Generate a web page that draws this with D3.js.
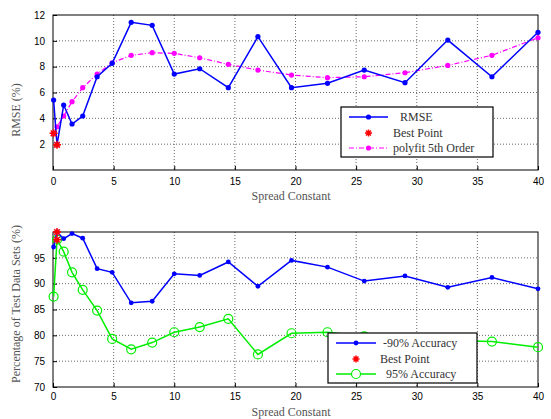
<!DOCTYPE html>
<html>
<head>
<meta charset="utf-8">
<script src="https://cdn.jsdelivr.net/npm/d3@7"></script>
<style>
  body { margin: 0; background: #fff; }
  svg { font-family: "Liberation Serif", "Times New Roman", serif; }
  .grid line { stroke: #444; stroke-dasharray: 1,2; stroke-width: 0.8; }
</style>
</head>
<body>
<svg width="551" height="419"></svg>
<script>
// Data
const spread = [0.05, 0.33, 0.88, 1.57, 2.45, 3.64, 4.88, 6.45, 8.18, 10.0, 12.1, 14.46, 16.9, 19.67, 22.64, 25.67, 29.03, 32.56, 36.2, 40.0];
const rmse = [5.42, 1.95, 5.03, 3.56, 4.18, 7.22, 8.26, 11.43, 11.2, 7.43, 7.84, 6.37, 10.32, 6.37, 6.71, 7.74, 6.76, 10.06, 7.22, 10.66];
const polyfit = [2.84, 3.35, 4.18, 5.29, 6.37, 7.43, 8.3, 8.88, 9.08, 9.03, 8.69, 8.18, 7.74, 7.35, 7.15, 7.22, 7.53, 8.1, 8.88, 10.24];
const acc90 = [97.1, 100, 98.7, 99.7, 98.8, 92.9, 92.2, 86.3, 86.6, 91.9, 91.6, 94.2, 89.5, 94.5, 93.2, 90.5, 91.5, 89.3, 91.2, 89.0];
const acc95 = [87.5, 98.5, 96.2, 92.2, 88.8, 84.8, 79.3, 77.3, 78.6, 80.6, 81.6, 83.2, 76.3, 80.4, 80.6, 79.8, 79.4, 79.0, 78.8, 77.7];
const bestTopX = [0.05, 0.33];
const bestTopY = [2.84, 1.95];
const bestBotX = [0.33, 0.33];
const bestBotY = [100, 98.5];

const xTicks = [0, 5, 10, 15, 20, 25, 30, 35, 40];
const yTicksTop = [2, 4, 6, 8, 10, 12];
const yTicksBot = [70, 75, 80, 85, 90, 95];

const svg = d3.select("svg");

// star marker like matlab '*'
function star(g, cx, cy, r) {
  const p = `M${cx - r},${cy}L${cx + r},${cy}M${cx},${cy - r}L${cx},${cy + r}` +
    `M${cx - r * 0.7},${cy - r * 0.7}L${cx + r * 0.7},${cy + r * 0.7}` +
    `M${cx - r * 0.7},${cy + r * 0.7}L${cx + r * 0.7},${cy - r * 0.7}`;
  g.append("path").attr("d", p).attr("stroke", "#ff0000").attr("stroke-width", 1.5).attr("fill", "none");
}

function panel(top, bottom, yDomain, yTicks, yLabel, yLabelY, xPad, xLabelOff) {
  const x = d3.scaleLinear().domain([0, 40]).range([53, 538]);
  const y = d3.scaleLinear().domain(yDomain).range([bottom, top]);
  const g = svg.append("g");

  // grid
  const grid = g.append("g").attr("class", "grid");
  grid.selectAll(".gx").data(xTicks.slice(1, -1)).join("line")
    .attr("x1", d => x(d)).attr("x2", d => x(d)).attr("y1", top).attr("y2", bottom);
  grid.selectAll(".gy").data(yTicks.filter(d => y(d) > top + 1 && y(d) < bottom - 1)).join("line")
    .attr("y1", d => y(d)).attr("y2", d => y(d)).attr("x1", 53).attr("x2", 538);

  // axes
  g.append("g").attr("transform", `translate(0,${bottom})`)
    .call(d3.axisBottom(x).tickValues(xTicks).tickSize(-4).tickPadding(xPad))
    .call(a => a.select(".domain").remove());
  g.append("g").attr("transform", "translate(53,0)")
    .call(d3.axisLeft(y).tickValues(yTicks).tickSize(-4).tickPadding(8))
    .call(a => a.select(".domain").remove());
  g.selectAll(".tick text").attr("font-size", 10).attr("fill", "#000");
  g.selectAll(".tick line").attr("stroke", "#000");
  g.append("rect").attr("x", 53).attr("y", top).attr("width", 485).attr("height", bottom - top)
    .attr("fill", "none").attr("stroke", "#000").attr("stroke-width", 1);

  g.append("text").attr("x", 291).attr("y", bottom + xLabelOff).attr("text-anchor", "middle")
    .attr("font-size", 12).attr("fill", "#555").text("Spread Constant");
  g.append("text").attr("transform", `translate(20,${yLabelY}) rotate(-90)`)
    .attr("text-anchor", "middle").attr("font-size", 12).attr("fill", "#555").text(yLabel);
  return { g, x, y };
}

// ---- top panel
const p1 = panel(15, 170, [0, 12], yTicksTop, "RMSE (%)", 110, 8, 30);
const line1 = d3.line().x((d, i) => p1.x(spread[i])).y(d => p1.y(d));
p1.g.append("path").datum(polyfit).attr("d", line1).attr("fill", "none")
  .attr("stroke", "#ff00ff").attr("stroke-width", 1.2).attr("stroke-dasharray", "5,2,1,2");
p1.g.selectAll(".pm").data(polyfit).join("circle")
  .attr("cx", (d, i) => p1.x(spread[i])).attr("cy", d => p1.y(d)).attr("r", 2.6).attr("fill", "#ff00ff");
p1.g.append("path").datum(rmse).attr("d", line1).attr("fill", "none")
  .attr("stroke", "#0000ff").attr("stroke-width", 1.5);
p1.g.selectAll(".rm").data(rmse).join("circle")
  .attr("cx", (d, i) => p1.x(spread[i])).attr("cy", d => p1.y(d)).attr("r", 2.6).attr("fill", "#0000ff");
bestTopX.forEach((v, i) => star(p1.g, p1.x(v), p1.y(bestTopY[i]), 4));

// legend top
const l1 = svg.append("g").attr("transform", "translate(341,107)");
l1.append("rect").attr("width", 152).attr("height", 50).attr("fill", "#fff").attr("stroke", "#000").attr("stroke-width", 1.2);
l1.append("line").attr("x1", 8).attr("x2", 47).attr("y1", 10).attr("y2", 10).attr("stroke", "#0000ff").attr("stroke-width", 1.5);
l1.append("circle").attr("cx", 27.5).attr("cy", 10).attr("r", 2.6).attr("fill", "#0000ff");
star(l1, 27.5, 26, 3.5);
l1.append("line").attr("x1", 8).attr("x2", 47).attr("y1", 41).attr("y2", 41).attr("stroke", "#ff00ff")
  .attr("stroke-width", 1.2).attr("stroke-dasharray", "5,2,1,2");
l1.append("circle").attr("cx", 27.5).attr("cy", 41).attr("r", 2.6).attr("fill", "#ff00ff");
[["RMSE", 59, 14], ["Best Point", 52, 30], ["polyfit 5th Order", 52, 45]].forEach(t => {
  l1.append("text").attr("x", t[1]).attr("y", t[2]).attr("font-size", 12).attr("fill", "#333").text(t[0]);
});

// ---- bottom panel
const p2 = panel(232, 387, [70, 100], yTicksBot, "Percentage of Test Data Sets (%)", 304, 6, 29);
const line2 = d3.line().x((d, i) => p2.x(spread[i])).y(d => p2.y(d));
p2.g.append("path").datum(acc95).attr("d", line2).attr("fill", "none")
  .attr("stroke", "#00ee00").attr("stroke-width", 1.5);
p2.g.selectAll(".a95").data(acc95).join("circle")
  .attr("cx", (d, i) => p2.x(spread[i])).attr("cy", d => p2.y(d)).attr("r", 4.5)
  .attr("fill", "none").attr("stroke", "#00ee00").attr("stroke-width", 1.2);
p2.g.append("path").datum(acc90).attr("d", line2).attr("fill", "none")
  .attr("stroke", "#0000ff").attr("stroke-width", 1.5);
p2.g.selectAll(".a90").data(acc90).join("circle")
  .attr("cx", (d, i) => p2.x(spread[i])).attr("cy", d => p2.y(d)).attr("r", 2.4).attr("fill", "#0000ff");
bestBotX.forEach((v, i) => star(p2.g, p2.x(v), p2.y(bestBotY[i]), 4));

// legend bottom
const l2 = svg.append("g").attr("transform", "translate(328,333)");
l2.append("rect").attr("width", 149).attr("height", 50).attr("fill", "#fff").attr("stroke", "#000").attr("stroke-width", 1.2);
l2.append("line").attr("x1", 8).attr("x2", 48).attr("y1", 10).attr("y2", 10).attr("stroke", "#0000ff").attr("stroke-width", 1.5);
l2.append("circle").attr("cx", 28).attr("cy", 10).attr("r", 2.4).attr("fill", "#0000ff");
star(l2, 28, 26, 3.5);
l2.append("line").attr("x1", 8).attr("x2", 48).attr("y1", 41).attr("y2", 41).attr("stroke", "#00ee00").attr("stroke-width", 1.5);
l2.append("circle").attr("cx", 28).attr("cy", 41).attr("r", 4.5).attr("fill", "#fff").attr("stroke", "#00ee00").attr("stroke-width", 1.2);
[["-90% Accuracy", 55, 14], ["Best Point", 52, 30], ["95% Accuracy", 58, 45]].forEach(t => {
  l2.append("text").attr("x", t[1]).attr("y", t[2]).attr("font-size", 12).attr("fill", "#333").text(t[0]);
});
</script>
</body>
</html>
